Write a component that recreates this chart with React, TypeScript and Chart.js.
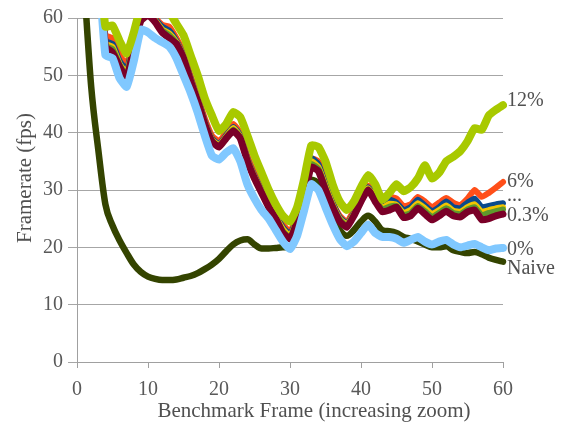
import React, { useEffect, useRef } from "react";
import { Chart, registerables } from "chart.js";

Chart.register(...registerables);

const frames = [
  1, 2, 3, 4, 5, 6, 7, 8, 9, 10, 11, 12, 13, 14, 15, 16, 17, 18, 19, 20,
  21, 22, 23, 24, 25, 26, 27, 28, 29, 30, 31, 32, 33, 34, 35, 36, 37, 38, 39, 40,
  41, 42, 43, 44, 45, 46, 47, 48, 49, 50, 51, 52, 53, 54, 55, 56, 57, 58, 59, 60,
];

const naive = [
  66, 48, 37, 27.5, 23.8, 21.2, 19, 17, 15.7, 14.9, 14.5, 14.3, 14.3, 14.4, 14.7, 15, 15.5, 16.2, 17, 18,
  19.3, 20.5, 21.2, 21.4, 20.5, 19.8, 19.8, 19.9, 20, 20, 23, 28, 31.8, 31, 28, 25, 23, 22, 23, 24.5,
  25.5, 24.5, 23, 22.8, 22.5, 21.8, 21.5, 21, 20.5, 20, 20, 20.2, 19.5, 19.2, 19, 19.2, 18.8, 18.2, 17.8, 17.5,
];

const pct0 = [
  null, null, 70, 53.5, 53, 49.5, 48, 52.5, 58, 57.5, 56.5, 55.8, 55, 53, 50, 47, 43.5, 39.5, 36, 35.3,
  36.5, 37.3, 35, 31, 28.5, 26.5, 25, 23, 21, 19.7, 22, 26.5, 31, 30, 27, 24, 21.5, 20.2, 21, 22.5,
  24, 22.5, 21.8, 21.8, 21.5, 20.8, 21.3, 21.8, 21, 20.5, 21, 21.3, 20.5, 20, 20.3, 20.6, 20, 19.5, 19.8, 19.9,
];

const pct03 = [
  null, null, 75, 55, 54, 51.5, 49.5, 55, 59.5, 60.5, 59.3, 57.5, 56.5, 55.5, 53, 49, 45.5, 41.5, 38.5, 37.5,
  39, 40.3, 39, 35, 32, 29.5, 27, 25, 22.5, 21.5, 24.5, 29, 34, 33.3, 30, 27, 24.5, 23.5, 25.5, 28,
  30, 28, 26.2, 26.5, 27, 25.2, 25.5, 26.8, 25.8, 24.8, 25.5, 26.3, 25.5, 25.3, 26.2, 26.5, 24.8, 25, 25.5, 25.8,
];

const pctGreen = [
  null, null, 75, 55.2, 54.6, 51.8, 50, 55.2, 59.6, 60.5, 59.4, 57.8, 57, 55.6, 53.1, 49.1, 45.6, 41.6, 38.6, 37.6,
  39.1, 40.5, 39.1, 35.1, 32.1, 29.6, 27.1, 25.1, 22.8, 21.7, 24.6, 29.2, 34.5, 33.7, 30.3, 27.2, 24.8, 23.8, 25.6, 28.1,
  30.1, 28.4, 26.6, 27.1, 27.2, 25.6, 26, 27.2, 26.3, 25.3, 26, 26.8, 26, 25.8, 26.6, 27, 25.6, 26, 26.3, 26.6,
];

const pctYellow = [
  null, null, 75, 55.5, 55, 52, 50.5, 55.5, 59.8, 60.6, 59.6, 58, 57.3, 55.8, 53.3, 49.3, 45.8, 41.8, 38.8, 37.8,
  39.3, 40.8, 39.3, 35.3, 32.3, 29.8, 27.3, 25.3, 23.2, 22, 24.8, 29.5, 35, 34, 30.7, 27.5, 25, 24, 25.8, 28.3,
  30.3, 28.7, 26.9, 27.6, 27.4, 26, 26.5, 27.7, 26.8, 25.8, 26.5, 27.3, 26.4, 26.2, 27, 27.5, 26.2, 26.5, 26.8, 27,
];

const pctBlue = [
  null, null, 75, 56, 55.5, 52.5, 51, 56, 60, 60.8, 59.8, 58.5, 57.8, 56, 53.5, 49.5, 46, 42, 39, 38,
  39.5, 41, 39.5, 35.5, 32.5, 30, 27.5, 25.5, 23.5, 22.3, 25, 29.8, 35.5, 34.5, 31, 27.8, 25.2, 24.2, 26, 28.5,
  30.5, 29, 27.3, 28.3, 27.8, 26.5, 27, 28.3, 27.3, 26.3, 27, 28, 27, 26.8, 27.8, 28.5, 27, 27.2, 27.5, 27.7,
];

const pct6 = [
  null, null, 75, 57, 56.5, 53.5, 52, 56.5, 60.5, 61, 60, 58.8, 58.5, 56.5, 54, 50, 46.5, 42.5, 39.5, 38.5,
  40, 41.5, 40, 36, 33, 30.5, 28, 26, 24, 22.8, 25.5, 30, 35.5, 35, 31.5, 28, 25.5, 24.5, 26.5, 29,
  30.8, 29.5, 27.8, 28.8, 28.5, 27.2, 27.5, 28.8, 28, 27, 27.8, 28.6, 27.8, 27.4, 28.5, 30, 28.8, 29.5, 30.4, 31.4,
];

const pct12 = [
  null, null, 72, 58.5, 58.7, 56, 53.8, 57.5, 62, 63, 62.5, 62, 61, 59, 57, 53.5, 50, 46, 43, 40.3,
  41.5, 43.6, 42.7, 39.5, 36, 33, 30, 27.5, 25.5, 24.5, 27, 32, 37.8, 37.5, 35, 31, 28, 26.5, 28, 30.5,
  32.6, 31, 28.3, 29.5, 31, 29.8, 30.5, 32, 34.3, 32, 33, 35, 35.8, 36.8, 38.5, 40.8, 40.5, 43, 44, 44.8,
];

const seriesLabels = ["12%", "6%", "...", "0.3%", "0%", "Naive"];
const seriesLabelValues = [45.6, 31.4, 29.0, 25.5, 19.6, 16.2];

const yTicks = [0, 10, 20, 30, 40, 50, 60];
const xTicks = [0, 10, 20, 30, 40, 50, 60];

const xTitle = "Benchmark Frame (increasing zoom)";
const yTitle = "Framerate (fps)";

const toPoints = (vals: (number | null)[]) =>
  frames.map((f, i) => ({ x: f, y: vals[i] }));

const FONT = '"Liberation Serif", "Times New Roman", serif';

const textPlugin = {
  id: "textPlugin",
  afterDraw(chart: any) {
    const { ctx, chartArea, scales } = chart;
    ctx.save();
    ctx.fillStyle = "#505050";
    ctx.font = `20px ${FONT}`;
    ctx.textBaseline = "middle";
    ctx.textAlign = "left";
    seriesLabels.forEach((t, i) => {
      ctx.fillText(t, chartArea.right + 4, scales.y.getPixelForValue(seriesLabelValues[i]));
    });
    ctx.font = `21px ${FONT}`;
    ctx.textAlign = "center";
    ctx.fillText(xTitle, 314, 411);
    ctx.translate(25, 178);
    ctx.rotate(-Math.PI / 2);
    ctx.fillText(yTitle, 0, 0);
    ctx.restore();
  },
};

export default function App() {
  const ref = useRef<HTMLCanvasElement | null>(null);

  useEffect(() => {
    if (!ref.current) return;
    const common = {
      pointRadius: 0,
      borderJoinStyle: "round" as const,
      borderCapStyle: "round" as const,
      tension: 0.15,
      spanGaps: false,
      clip: { left: 0, top: 0, right: 4, bottom: 0 },
    };
    const chart = new Chart(ref.current, {
      type: "line",
      data: {
        datasets: [
          { ...common, label: "12%", data: toPoints(pct12), borderColor: "#a8c900", borderWidth: 8, order: 0 },
          { ...common, label: "0%", data: toPoints(pct0), borderColor: "#80c8ff", borderWidth: 8, order: 1 },
          { ...common, label: "0.3%", data: toPoints(pct03), borderColor: "#7a0028", borderWidth: 7, order: 2 },
          { ...common, label: "green", data: toPoints(pctGreen), borderColor: "#5e9a2c", borderWidth: 6, order: 3 },
          { ...common, label: "yellow", data: toPoints(pctYellow), borderColor: "#f2c400", borderWidth: 6, order: 4 },
          { ...common, label: "blue", data: toPoints(pctBlue), borderColor: "#0a4a8c", borderWidth: 6, order: 5 },
          { ...common, label: "6%", data: toPoints(pct6), borderColor: "#ff4f19", borderWidth: 6, order: 6 },
          {
            ...common,
            label: "Naive",
            data: toPoints(naive),
            borderColor: "#344400",
            borderWidth: 6.5,
            order: 7,
            cubicInterpolationMode: "monotone" as const,
          },
        ],
      },
      options: {
        animation: false,
        responsive: false,
        events: [],
        layout: { padding: { top: 18, right: 62, left: 0, bottom: 0 } },
        plugins: { legend: { display: false }, tooltip: { enabled: false } },
        scales: {
          x: {
            type: "linear",
            min: 0,
            max: 60,
            afterFit: (s: any) => {
              s.height = 61;
            },
            afterBuildTicks: (s: any) => {
              s.ticks = xTicks.map((v) => ({ value: v }));
            },
            ticks: { color: "#595959", font: { family: FONT, size: 20 }, padding: 10, maxRotation: 0 },
            grid: { drawOnChartArea: false, drawTicks: true, tickLength: 6, color: "#a0a0a0" },
            border: { display: true, color: "#a0a0a0", width: 1 },
          },
          y: {
            min: 0,
            max: 60,
            afterFit: (s: any) => {
              s.width = 77;
            },
            afterBuildTicks: (s: any) => {
              s.ticks = yTicks.map((v) => ({ value: v }));
            },
            ticks: { color: "#595959", font: { family: FONT, size: 20 }, padding: 5 },
            grid: { drawOnChartArea: true, drawTicks: true, tickLength: 9, color: "#a6a6a6" },
            border: { display: true, color: "#a0a0a0", width: 1 },
          },
        },
      },
      plugins: [textPlugin],
    });
    return () => chart.destroy();
  }, []);

  return (
    <div style={{ position: "absolute", left: 0, top: 0, width: 565, height: 423, background: "#fff" }}>
      <canvas ref={ref} width={565} height={423} />
    </div>
  );
}
